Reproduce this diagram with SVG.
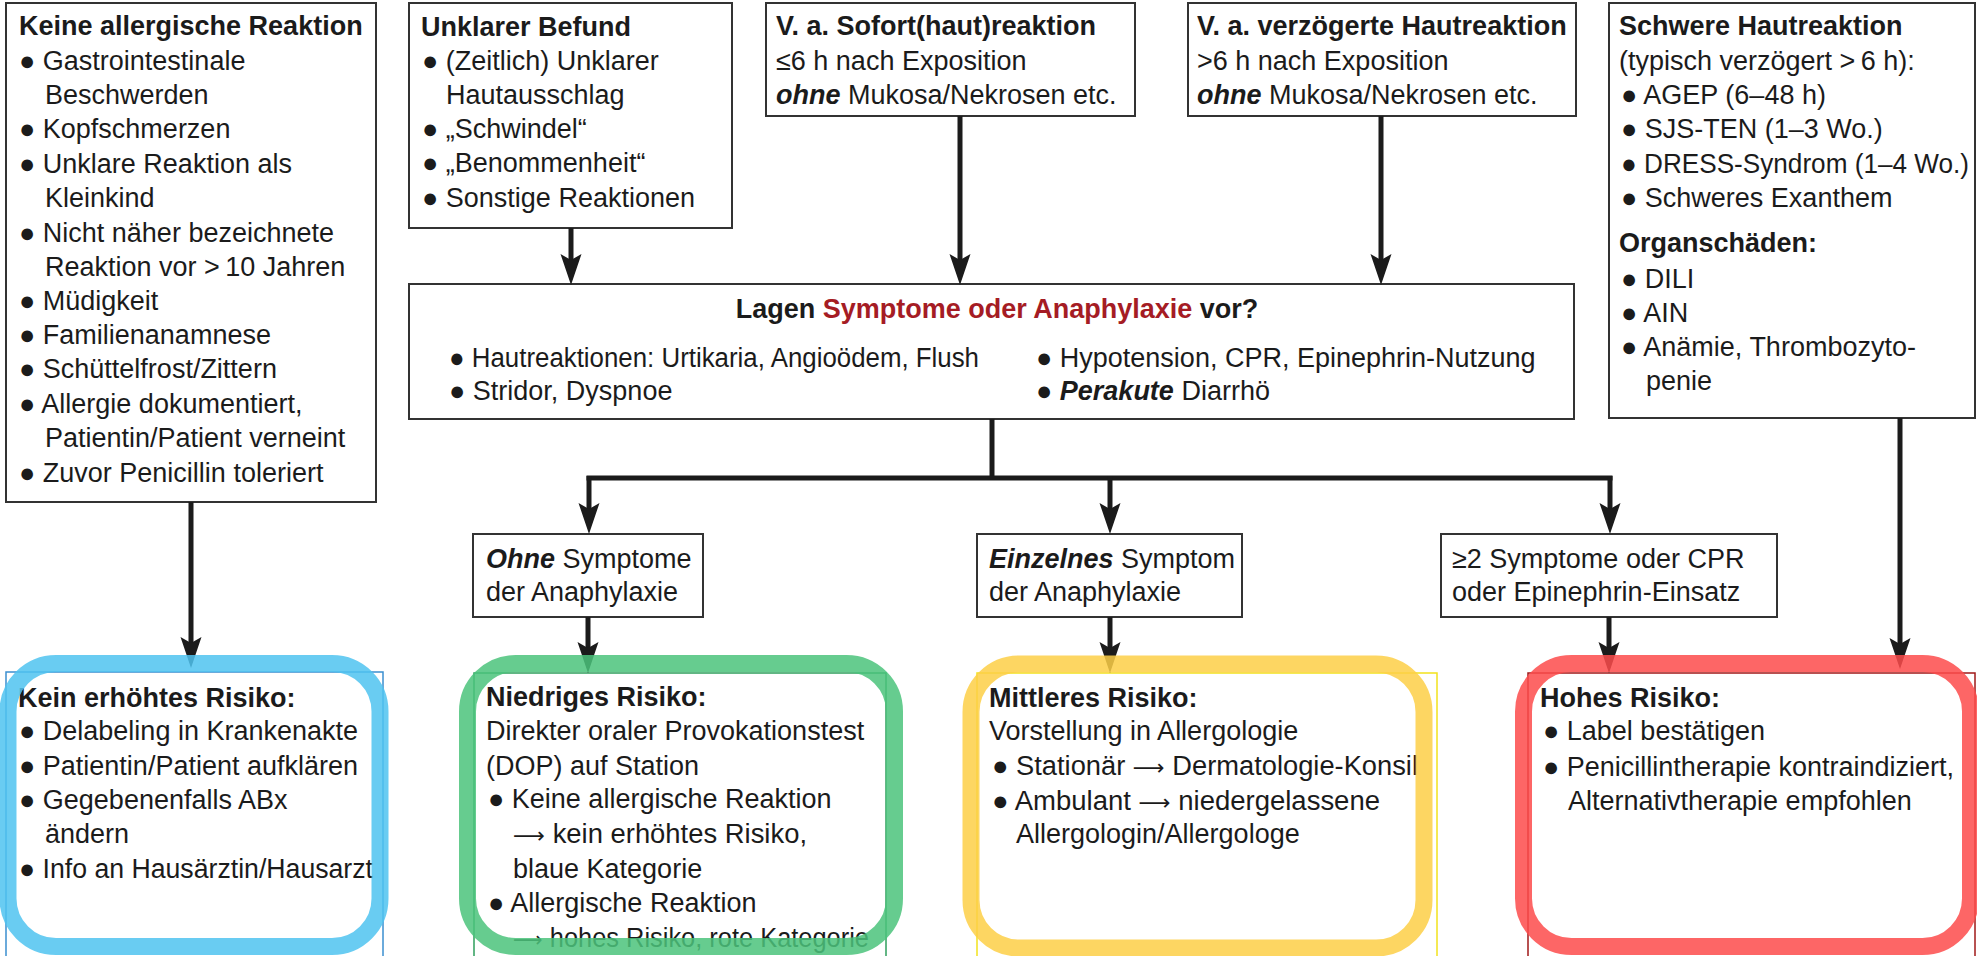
<svg xmlns="http://www.w3.org/2000/svg" width="1977" height="956" viewBox="0 0 1977 956">
<style>
  text { font-family: "Liberation Sans", Arial, sans-serif; font-size: 27px; fill: #1b1b1b; }
  .b { font-weight: bold; }
  .bi { font-weight: bold; font-style: italic; }
  .red { fill: #a51c24; }
  .ar { font-family: "DejaVu Sans", sans-serif; font-size: 22px; }
  .box { fill: #ffffff; stroke: #333333; stroke-width: 2; }
  .con { fill: none; stroke: #1b1b1b; stroke-width: 5; }
  .arr { fill: none; stroke: #1b1b1b; stroke-width: 5; marker-end: url(#ah); }
  .ring { fill: none; stroke-width: 17; opacity: 0.85; }
  .thin { fill: none; stroke-width: 1.5; }
</style>
<defs>
  <marker id="ah" markerUnits="userSpaceOnUse" viewBox="0 0 32 22" markerWidth="32" markerHeight="22" refX="6" refY="11" orient="auto">
    <path d="M0,0.5 L31,11 L0,21.5 L6,11 Z" fill="#1b1b1b"/>
  </marker>
</defs>
<rect x="0" y="0" width="1977" height="956" fill="#ffffff"/>

<g id="node-keine-reaktion">
  <rect class="box" x="6" y="3" width="370" height="499"/>
  <text x="19" y="35" class="b">Keine allergische Reaktion</text>
  <text x="19" y="70">● Gastrointestinale</text>
  <text x="45" y="104">Beschwerden</text>
  <text x="19" y="138">● Kopfschmerzen</text>
  <text x="19" y="173">● Unklare Reaktion als</text>
  <text x="45" y="207">Kleinkind</text>
  <text x="19" y="242">● Nicht näher bezeichnete</text>
  <text x="45" y="276">Reaktion vor &gt;&#8201;10 Jahren</text>
  <text x="19" y="310">● Müdigkeit</text>
  <text x="19" y="344">● Familienanamnese</text>
  <text x="19" y="378">● Schüttelfrost/Zittern</text>
  <text x="19" y="413">● Allergie dokumentiert,</text>
  <text x="45" y="447">Patientin/Patient verneint</text>
  <text x="19" y="482">● Zuvor Penicillin toleriert</text>
</g>

<g id="node-unklarer-befund">
  <rect class="box" x="409" y="3" width="323" height="225"/>
  <text x="421" y="36" class="b">Unklarer Befund</text>
  <text x="422" y="70">● (Zeitlich) Unklarer</text>
  <text x="446" y="104">Hautausschlag</text>
  <text x="422" y="138">● „Schwindel“</text>
  <text x="422" y="172">● „Benommenheit“</text>
  <text x="422" y="207">● Sonstige Reaktionen</text>
</g>

<g id="node-sofortreaktion">
  <rect class="box" x="766" y="3" width="369" height="113"/>
  <text x="776" y="35" class="b">V. a. Sofort(haut)reaktion</text>
  <text x="776" y="70">≤6 h nach Exposition</text>
  <text x="776" y="104"><tspan class="bi">ohne</tspan> Mukosa/Nekrosen etc.</text>
</g>

<g id="node-verzoegerte-reaktion">
  <rect class="box" x="1188" y="3" width="388" height="113"/>
  <text x="1197" y="35" class="b">V. a. verzögerte Hautreaktion</text>
  <text x="1197" y="70">&gt;6 h nach Exposition</text>
  <text x="1197" y="104"><tspan class="bi">ohne</tspan> Mukosa/Nekrosen etc.</text>
</g>

<g id="node-schwere-hautreaktion">
  <rect class="box" x="1609" y="3" width="366" height="415"/>
  <text x="1619" y="35" class="b">Schwere Hautreaktion</text>
  <text x="1619" y="70">(typisch verzögert &gt;&#8201;6 h):</text>
  <text x="1621" y="104">● AGEP (6–48 h)</text>
  <text x="1621" y="138">● SJS-TEN (1–3 Wo.)</text>
  <text x="1621" y="173" textLength="348" lengthAdjust="spacingAndGlyphs">● DRESS-Syndrom (1–4 Wo.)</text>
  <text x="1621" y="207">● Schweres Exanthem</text>
  <text x="1619" y="252" class="b">Organschäden:</text>
  <text x="1621" y="288">● DILI</text>
  <text x="1621" y="322">● AIN</text>
  <text x="1621" y="356">● Anämie, Thrombozyto-</text>
  <text x="1646" y="390">penie</text>
</g>

<g id="node-symptome-frage">
  <rect class="box" x="409" y="284" width="1165" height="135"/>
  <text x="997" y="318" class="b" text-anchor="middle">Lagen <tspan class="red">Symptome oder Anaphylaxie</tspan> vor?</text>
  <text x="449" y="367" textLength="530" lengthAdjust="spacingAndGlyphs">● Hautreaktionen: Urtikaria, Angioödem, Flush</text>
  <text x="449" y="400">● Stridor, Dyspnoe</text>
  <text x="1036" y="367">● Hypotension, CPR, Epinephrin-Nutzung</text>
  <text x="1036" y="400">● <tspan class="bi">Perakute</tspan> Diarrhö</text>
</g>

<g id="node-ohne-symptome">
  <rect class="box" x="473" y="534" width="230" height="83"/>
  <text x="486" y="568"><tspan class="bi">Ohne</tspan> Symptome</text>
  <text x="486" y="601">der Anaphylaxie</text>
</g>

<g id="node-einzelnes-symptom">
  <rect class="box" x="977" y="534" width="265" height="83"/>
  <text x="989" y="568"><tspan class="bi">Einzelnes</tspan> Symptom</text>
  <text x="989" y="601">der Anaphylaxie</text>
</g>

<g id="node-zwei-symptome">
  <rect class="box" x="1441" y="534" width="336" height="83"/>
  <text x="1452" y="568">≥2 Symptome oder CPR</text>
  <text x="1452" y="601">oder Epinephrin-Einsatz</text>
</g>

<g id="node-kein-risiko">
  <rect class="thin" x="6" y="672" width="377" height="320" stroke="#3b8fd0"/>
  <text x="18" y="707" class="b">Kein erhöhtes Risiko:</text>
  <text x="19" y="740">● Delabeling in Krankenakte</text>
  <text x="19" y="775">● Patientin/Patient aufklären</text>
  <text x="19" y="809">● Gegebenenfalls ABx</text>
  <text x="45" y="843">ändern</text>
  <text x="19" y="878" textLength="354" lengthAdjust="spacingAndGlyphs">● Info an Hausärztin/Hausarzt</text>
</g>

<g id="node-niedriges-risiko">
  <rect class="thin" x="474" y="673" width="412" height="320" stroke="#2f9e5c"/>
  <text x="486" y="706" class="b">Niedriges Risiko:</text>
  <text x="486" y="740">Direkter oraler Provokationstest</text>
  <text x="486" y="775">(DOP) auf Station</text>
  <text x="488" y="808">● Keine allergische Reaktion</text>
  <text x="513" y="843" textLength="294" lengthAdjust="spacingAndGlyphs"><tspan class="ar">⟶</tspan> kein erhöhtes Risiko,</text>
  <text x="513" y="878">blaue Kategorie</text>
  <text x="488" y="912">● Allergische Reaktion</text>
  <text x="513" y="947" textLength="356" lengthAdjust="spacingAndGlyphs"><tspan class="ar">⟶</tspan> hohes Risiko, rote Kategorie</text>
</g>

<g id="node-mittleres-risiko">
  <rect class="thin" x="977" y="673" width="460" height="320" stroke="#f2e21c"/>
  <text x="989" y="707" class="b">Mittleres Risiko:</text>
  <text x="989" y="740">Vorstellung in Allergologie</text>
  <text x="992" y="775" textLength="426" lengthAdjust="spacingAndGlyphs">● Stationär <tspan class="ar">⟶</tspan> Dermatologie-Konsil</text>
  <text x="992" y="810" textLength="388" lengthAdjust="spacingAndGlyphs">● Ambulant <tspan class="ar">⟶</tspan> niedergelassene</text>
  <text x="1016" y="843">Allergologin/Allergologe</text>
</g>

<g id="node-hohes-risiko">
  <rect class="thin" x="1528" y="673" width="447" height="320" stroke="#a01818"/>
  <text x="1540" y="707" class="b">Hohes Risiko:</text>
  <text x="1543" y="740">● Label bestätigen</text>
  <text x="1543" y="776">● Penicillintherapie kontraindiziert,</text>
  <text x="1568" y="810">Alternativtherapie empfohlen</text>
</g>

<g id="connectors">
  <path class="arr" d="M191,502 V643"/>
  <path class="arr" d="M571,228 V260"/>
  <path class="arr" d="M960,116 V260"/>
  <path class="arr" d="M1381,116 V260"/>
  <path class="arr" d="M1900,418 V644"/>
  <path class="con" d="M992,419 V478"/>
  <path class="con" d="M586.5,478 H1612.5"/>
  <path class="arr" d="M589,476 V509"/>
  <path class="arr" d="M1110,476 V509"/>
  <path class="arr" d="M1610,476 V509"/>
  <path class="arr" d="M588,617 V648"/>
  <path class="arr" d="M1110,617 V648"/>
  <path class="arr" d="M1609,617 V648"/>
</g>

<g id="risk-frames">
  <rect class="ring" x="8" y="663.5" width="372" height="283" rx="48" stroke="#4fc3f0"/>
  <rect class="ring" x="467.5" y="663.5" width="427" height="283" rx="48" stroke="#4bc37b"/>
  <rect class="ring" x="971" y="664" width="453" height="284" rx="48" stroke="#fdcf47"/>
  <rect class="ring" x="1523.5" y="663.5" width="447" height="283" rx="48" stroke="#fd4b4b"/>
</g>
</svg>
